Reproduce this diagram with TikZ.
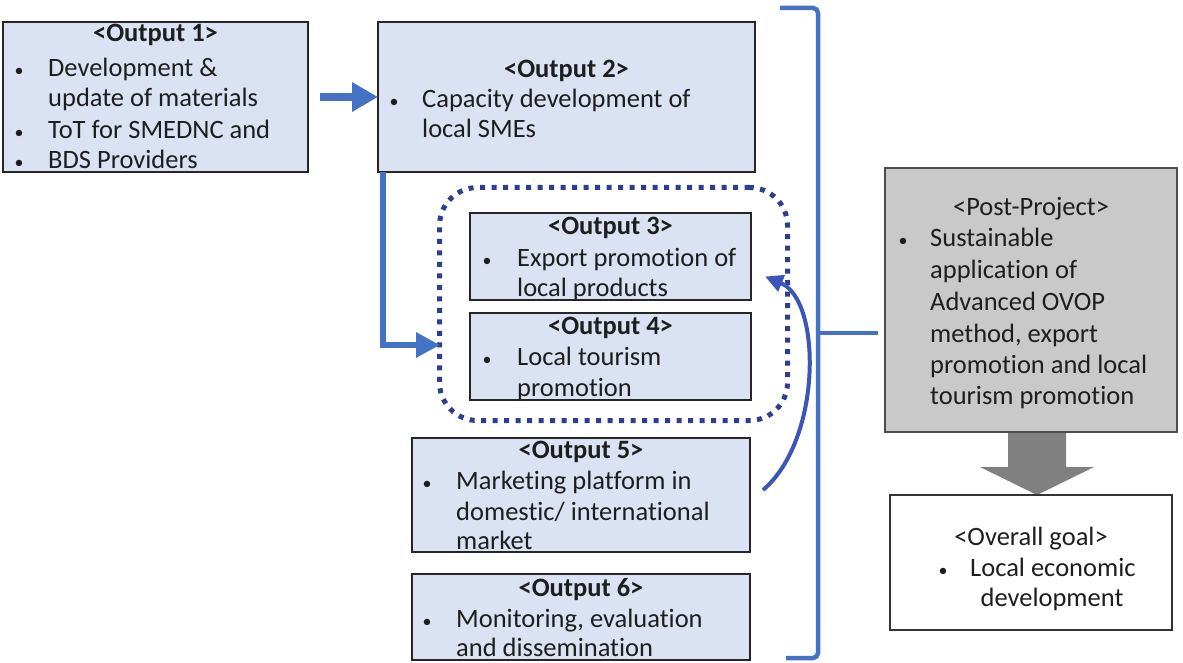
\documentclass[tikz,border=0pt]{standalone}
\usepackage{fontspec}
\setmainfont{Carlito}[Ligatures=NoCommon]
\usetikzlibrary{arrows.meta,calc}
\definecolor{boxblue}{HTML}{DAE2F3}
\definecolor{ppgray}{HTML}{C9C9C9}
\definecolor{arrgray}{HTML}{808080}
\definecolor{linkblue}{HTML}{4472C4}
\definecolor{dotnavy}{HTML}{2E3D8C}
\definecolor{curveblue}{HTML}{3B56B8}
\definecolor{ink}{HTML}{1E1E1E}
\begin{document}
\begin{tikzpicture}[x=1pt,y=-1pt,
  obox/.style={draw=black!85, line width=1.3pt, fill=boxblue, rectangle, anchor=north west, inner sep=0pt, outer sep=0pt},
  txt/.style={anchor=base west, inner sep=0pt, font=\fontsize{26.5}{31}\selectfont, text=ink},
  hd/.style={anchor=base, inner sep=0pt, font=\fontsize{26.5}{31}\selectfont\bfseries, text=ink},
  hdn/.style={anchor=base, inner sep=0pt, font=\fontsize{26.5}{31}\selectfont, text=ink},
  bul/.style={anchor=base, inner sep=0pt, font=\fontsize{18}{24}\selectfont, text=ink},
  link/.style={draw=linkblue},
  brace/.style={draw=linkblue, line width=4.5pt},
]
\useasboundingbox (0,0) rectangle (1183,663);
\fill[white] (0,0) rectangle (1183,663);

% ---------- boxes ----------
\node[obox, minimum width=305pt, minimum height=150pt] (o1) at (3,22) {};
\node[obox, minimum width=377pt, minimum height=150pt] (o2) at (378,22) {};
\node[draw=dotnavy, line width=5pt, dash pattern=on 5pt off 6.5pt, rounded corners=38pt,
      rectangle, anchor=north west, inner sep=0pt, minimum width=348pt, minimum height=233pt] (grp) at (437,185) {};
\node[obox, minimum width=281pt, minimum height=87pt] (o3) at (470,213) {};
\node[obox, minimum width=281pt, minimum height=87pt] (o4) at (470,313) {};
\node[obox, minimum width=338pt, minimum height=114pt] (o5) at (412,438) {};
\node[obox, minimum width=338pt, minimum height=86pt] (o6) at (412,574) {};
\node[obox, fill=ppgray, draw=black!70, minimum width=292pt, minimum height=264pt] (pp) at (885,168) {};
\fill[arrgray] (1008,433) -- (1066,433) -- (1066,467) -- (1094,467) -- (1037,495) -- (980,467) -- (1008,467) -- cycle;
\node[obox, fill=white, draw=black!80, minimum width=282pt, minimum height=135pt] (og) at (890,495) {};

% ---------- texts ----------
% Output 1
\node[hd] (t1h) at (o1.north |- 0,42) {<Output 1>};
\node[bul] (t1b1) at (19,77) {\textbullet};
\node[txt] (t1a) at (48,77) {Development \&};
\node[txt] (t1b) at (48,107) {update of materials};
\node[bul] (t1b2) at (19,139) {\textbullet};
\node[txt] (t1c) at (48,139) {ToT for SMEDNC and};
\node[bul] (t1b3) at (19,169) {\textbullet};
\node[txt] (t1d) at (48,169) {BDS Providers};
% Output 2
\node[hd] (t2h) at (o2.north |- 0,78) {<Output 2>};
\node[bul] (t2b1) at (394,108) {\textbullet};
\node[txt] (t2a) at (422,108) {Capacity development of};
\node[txt] (t2b) at (422,138) {local SMEs};
% Output 3
\node[hd] (t3h) at (o3.north |- 0,234) {<Output 3>};
\node[bul] (t3b1) at (487,266) {\textbullet};
\node[txt] (t3a) at (517,266) {Export promotion of};
\node[txt] (t3b) at (517,296) {local products};
% Output 4
\node[hd] (t4h) at (o4.north |- 0,334) {<Output 4>};
\node[bul] (t4b1) at (487,365) {\textbullet};
\node[txt] (t4a) at (517,365) {Local tourism};
\node[txt] (t4b) at (517,396) {promotion};
% Output 5
\node[hd] (t5h) at (o5.north |- 0,458) {<Output 5>};
\node[bul] (t5b1) at (427,489) {\textbullet};
\node[txt] (t5a) at (456,489) {Marketing platform in};
\node[txt] (t5b) at (456,520) {domestic/ international};
\node[txt] (t5c) at (456,549) {market};
% Output 6
\node[hd] (t6h) at (o6.north |- 0,596) {<Output 6>};
\node[bul] (t6b1) at (427,627) {\textbullet};
\node[txt] (t6a) at (456,627) {Monitoring, evaluation};
\node[txt] (t6b) at (456,656) {and dissemination};
% Post-project
\node[hdn] (tph) at (pp.north |- 0,215) {<Post-Project>};
\node[bul] (tpb1) at (903,247) {\textbullet};
\node[txt] (tpa) at (930,247) {Sustainable};
\node[txt] (tpb) at (930,278) {application of};
\node[txt] (tpc) at (930,310) {Advanced OVOP};
\node[txt] (tpd) at (930,342) {method, export};
\node[txt] (tpe) at (930,373) {promotion and local};
\node[txt] (tpf) at (930,404) {tourism promotion};
% Overall goal
\node[hdn] (tgh) at (og.north |- 0,545) {<Overall goal>};
\node[bul] (tgb1) at (943,576) {\textbullet};
\node[txt] (tga) at (970,576) {Local economic};
\node[hdn] (tgb) at (1052,606) {development};

% ---------- connectors ----------
\draw[link, line width=8pt, -{Triangle[length=26pt,width=28pt]}] ($(o1.east)+(12,0)$) -- (o2.west);
\coordinate (c4) at (440,345);
\draw[link, line width=6pt, -{Triangle[length=24pt,width=24pt]}] ($(o2.south west)+(5,0)$) |- (c4);
\draw[draw=curveblue, line width=4pt, -{Triangle[length=18pt,width=17pt]}]
  ($(o5.east)+(13,-5)$) .. controls (822,440) and (822,300) .. ($(o3.east)+(14,20)$);

% ---------- brace ----------
\draw[brace, rounded corners=5pt] (780,8) -| (818,658) -- (786,658);
\coordinate (bt) at (818,333);
\draw[brace] (bt) -- ($(pp.west)+(-7,33)$);
\end{tikzpicture}
\end{document}
